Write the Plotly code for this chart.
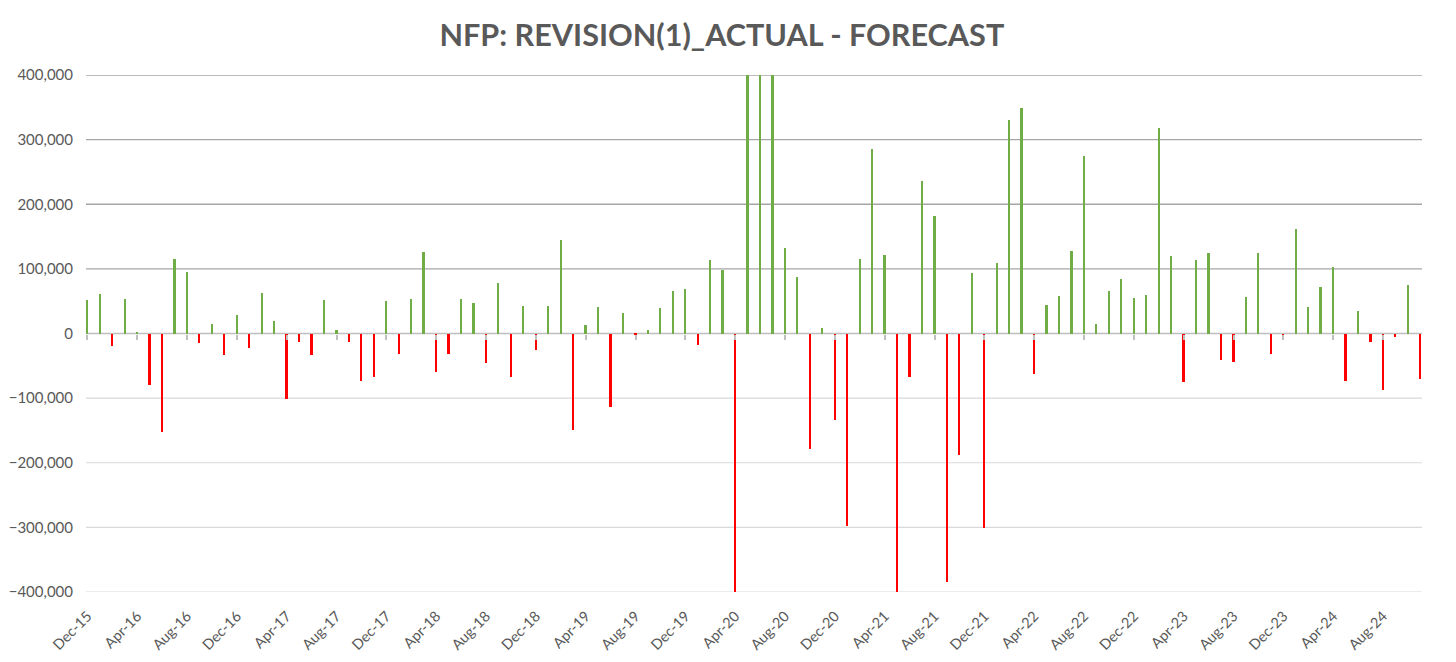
import plotly.graph_objects as go
import pandas as pd

start_month = "2015-12"
values = [
    52000, 61000, -19000, 54000, 3000, -80000, -153000, 116000, 95000, -14000, 15000, -34000,
    29000, -22000, 63000, 19000, -101000, -13000, -34000, 52000, 5000, -13000, -74000, -67000,
    51000, -32000, 54000, 126000, -59000, -32000, 53000, 47000, -46000, 78000, -68000, 43000,
    -25000, 43000, 145000, -150000, 13000, 41000, -114000, 32000, -2000, 6000, 39000, 66000,
    69000, -18000, 113000, 98000, -400000, 400000, 400000, 400000, 132000, 87000, -179000, 9000,
    -134000, -298000, 115000, 285000, 122000, -400000, -68000, 236000, 182000, -384000, -188000, 94000,
    -301000, 109000, 330000, 349000, -63000, 44000, 58000, 128000, 275000, 14000, 65000, 84000,
    55000, 59000, 318000, 120000, -75000, 113000, 125000, -41000, -44000, 56000, 125000, -31000,
    -8000, 162000, 41000, 72000, 103000, -74000, 35000, -13000, -88000, -5000, 75000, -70000,
]
month_labels = [p.strftime("%b-%y") for p in pd.period_range(start_month, periods=len(values), freq="M")]
y_ticks = [400000, 300000, 200000, 100000, 0, -100000, -200000, -300000, -400000]
title_text = "NFP: REVISION(1)_ACTUAL - FORECAST"

GREEN = "#70ad47"
RED = "#ff0000"
FONT = "Lato"

idx = list(range(len(values)))
colors = [GREEN if v >= 0 else RED for v in values]
tick_idx = idx[::4]
tick_txt = [month_labels[i] for i in tick_idx]

fig = go.Figure()
fig.add_trace(go.Bar(x=idx, y=values, marker_color=colors, marker_line_width=0,
                     width=0.14, hovertext=month_labels, showlegend=False))
# invisible helper trace for the tick-mark axis at the zero line
fig.add_trace(go.Scatter(x=[idx[0]], y=[0], xaxis="x2", mode="markers",
                         marker=dict(opacity=0), hoverinfo="skip", showlegend=False))

xr = [-0.12, len(values) - 1 + 0.12]

shapes = []
for v in y_ticks:
    if v > 0:
        col, w = "#a6a6a6", 1.4
    elif v < 0:
        col, w = "#d9d9d9", 1.2
    else:
        col, w = "#bfbfbf", 1.3
    shapes.append(dict(type="line", xref="paper", yref="y", x0=0, x1=1, y0=v, y1=v,
                       line=dict(color=col, width=w), layer="below"))

fig.update_layout(
    width=1448, height=654,
    margin=dict(l=78, r=34, t=67, b=70),
    paper_bgcolor="white", plot_bgcolor="white",
    title=dict(text=f"<b>{title_text}</b>", x=0.493, xanchor="center", y=0.958, yanchor="middle",
               font=dict(family=FONT, size=30.6, color="#595959")),
    font=dict(family=FONT, color="#595959", size=14),
    bargap=0,
    shapes=shapes,
    xaxis=dict(range=xr, tickvals=tick_idx, ticktext=tick_txt, tickangle=-45,
               showgrid=False, zeroline=False, showline=False, automargin=False,
               ticks="outside", ticklen=9, tickcolor="rgba(0,0,0,0)",
               tickfont=dict(size=14.5, color="#595959")),
    xaxis2=dict(range=xr, overlaying="x", anchor="free", position=0.5, side="bottom",
                tickvals=tick_idx, showticklabels=False, ticks="outside", ticklen=5,
                tickwidth=1.5, tickcolor="#bfbfbf", showgrid=False, zeroline=False, showline=False),
    yaxis=dict(range=[-400000, 400000], tickvals=y_ticks, tickformat=",d", automargin=False,
               showgrid=False, zeroline=False, showline=False, ticklabelstandoff=12,
               tickfont=dict(size=15, color="#595959")),
)

fig.write_html("out.html")
